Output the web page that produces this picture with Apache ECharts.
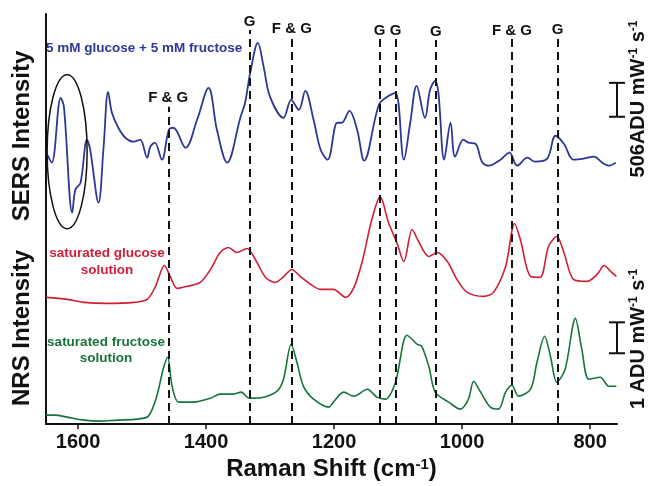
<!DOCTYPE html>
<html>
<head>
<meta charset="utf-8">
<script src="https://cdn.jsdelivr.net/npm/echarts@6/dist/echarts.min.js"></script>
<style>
  html, body { margin: 0; padding: 0; background: #fff; }
  #chart { width: 651px; height: 486px; }
</style>
</head>
<body>
<div id="chart"></div>
<script>
var FONT = 'Liberation Sans, Arial, sans-serif';

// Raman shift (cm-1) vs intensity above each trace's own baseline
var sersData = [
    [1648, 11], [1641, 3], [1627, 68], [1622, 59], [1609, -47], [1604, -24], [1596, -17],
    [1586, 26], [1581, 16], [1568, -37], [1560, 19], [1553, 74], [1547, 53], [1537, 38],
    [1526, 28], [1513, 24], [1503, 26], [1492, 8], [1487, 19], [1480, 23], [1469, 6],
    [1458, 36], [1451, 38], [1432, 18], [1414, 46], [1396, 78], [1383, 36], [1367, 3],
    [1346, 49], [1339, 63], [1331, 93], [1319, 123], [1310, 99], [1300, 69], [1279, 48],
    [1267, 66], [1255, 56], [1245, 75], [1232, 46], [1221, 16], [1210, 6], [1195, 43],
    [1188, 43], [1176, 55], [1164, 36], [1153, 5], [1130, 61], [1117, 69], [1104, 73],
    [1091, 6], [1081, 43], [1071, 80], [1058, 48], [1050, 76], [1042, 85], [1037, 73],
    [1028, 6], [1018, 43], [1011, 9], [998, 26], [990, 23], [979, 22], [969, 4], [958, 0],
    [940, 6], [926, 13], [914, 0], [898, 8], [886, 4], [867, 7], [854, 30], [841, 22],
    [826, 6], [810, 7], [794, 9], [781, 3], [771, 0], [760, 3]
];
var glucoseData = [
    [1650, 7], [1617, 5], [1591, 2], [1555, 1], [1513, 2], [1492, 5], [1479, 18],
    [1465, 39], [1456, 28], [1445, 16], [1430, 18], [1409, 22], [1393, 35], [1378, 52],
    [1365, 57], [1352, 52], [1336, 56], [1323, 45], [1307, 27], [1292, 22], [1280, 27],
    [1266, 35], [1253, 28], [1232, 18], [1221, 15], [1201, 15], [1182, 7], [1169, 17],
    [1156, 43], [1141, 85], [1128, 108], [1115, 82], [1102, 62], [1091, 43], [1078, 75],
    [1068, 63], [1052, 48], [1039, 52], [1023, 43], [1008, 25], [992, 12], [966, 8],
    [951, 12], [932, 38], [918, 81], [909, 65], [893, 28], [878, 27], [865, 58],
    [852, 68], [841, 52], [826, 25], [805, 23], [789, 30], [778, 39], [768, 33], [759, 28]
];
var fructoseData = [
    [1650, 9], [1636, 9], [1617, 7], [1591, 4], [1565, 3], [1539, 4], [1508, 5],
    [1490, 8], [1477, 28], [1467, 55], [1460, 67], [1453, 38], [1443, 22], [1419, 22],
    [1393, 26], [1378, 30], [1357, 30], [1345, 32], [1333, 26], [1310, 27], [1289, 33],
    [1279, 45], [1267, 80], [1258, 62], [1248, 38], [1232, 25], [1208, 17], [1201, 22],
    [1185, 32], [1169, 28], [1148, 35], [1133, 27], [1120, 25], [1104, 42], [1086, 89],
    [1070, 80], [1063, 78], [1052, 58], [1042, 32], [1021, 22], [1003, 15], [990, 25],
    [982, 43], [971, 32], [956, 17], [943, 15], [932, 32], [922, 39], [912, 28],
    [893, 35], [883, 62], [871, 88], [862, 68], [852, 42], [839, 55], [823, 106],
    [813, 75], [802, 45], [784, 47], [771, 38], [759, 38]
];

// assigned bands
var bandShifts = [1459, 1332, 1266, 1129, 1104, 1041, 922, 851];
var bandLabels = ['F & G', 'G', 'F & G', 'G', 'G', 'G', 'F & G', 'G'];
var bandTops = [318, 395, 388, 386, 386, 385, 386, 387];

var xTicks = [1600, 1400, 1200, 1000, 800];

var baseSers = 259, baseGlucose = 120, baseFructose = 0;

function shift(data, base) {
    return data.map(function (p) { return [p[0], p[1] + base]; });
}

var chart = echarts.init(document.getElementById('chart'));

var bandLines = bandShifts.map(function (s, i) {
    return [
        { coord: [s, 0] },
        { coord: [s, bandTops[i]], label: { formatter: bandLabels[i] } }
    ];
});

var option = {
    animation: false,
    backgroundColor: '#fff',
    grid: { left: 46, right: 34, top: 14, bottom: 61 },
    xAxis: {
        type: 'value',
        inverse: true,
        min: 758,
        max: 1650,
        name: 'Raman Shift (cm{sup|-1})',
        nameLocation: 'middle',
        nameGap: 30,
        nameTextStyle: {
            fontFamily: FONT, fontSize: 24, fontWeight: 'bold', color: '#111',
            rich: { sup: { fontFamily: FONT, fontSize: 15, fontWeight: 'bold', color: '#111', verticalAlign: 'top', padding: [0, 0, 9, 0] } }
        },
        axisLine: { lineStyle: { color: '#111', width: 2 } },
        axisTick: { show: true, length: 5, customValues: xTicks, lineStyle: { color: '#111', width: 1.5 } },
        axisLabel: {
            customValues: xTicks, margin: 8,
            formatter: function (v) { return String(v); },
            fontFamily: FONT, fontSize: 20, fontWeight: 'bold', color: '#111'
        },
        splitLine: { show: false }
    },
    yAxis: {
        type: 'value',
        min: 0,
        max: 411,
        axisLine: { show: true, lineStyle: { color: '#111', width: 2 } },
        axisTick: { show: false },
        axisLabel: { show: false },
        splitLine: { show: false }
    },
    series: [
        {
            type: 'line', data: shift(sersData, baseSers), showSymbol: false,
            smooth: 0.35, lineStyle: { color: '#2e3796', width: 1.8 }, z: 3
        },
        {
            type: 'line', data: shift(glucoseData, baseGlucose), showSymbol: false,
            smooth: 0.3, lineStyle: { color: '#cf1f36', width: 1.6 }, z: 3
        },
        {
            type: 'line', data: shift(fructoseData, baseFructose), showSymbol: false,
            smooth: 0.3, lineStyle: { color: '#17743c', width: 1.6 }, z: 3,
            markLine: {
                silent: true,
                symbol: ['none', 'none'],
                lineStyle: { color: '#111', width: 2, type: [8, 5] },
                label: {
                    position: 'end', distance: 1,
                    fontFamily: FONT, fontSize: 15, fontWeight: 'bold', color: '#111'
                },
                data: bandLines
            }
        }
    ]
};
chart.setOption(option);

// annotations placed through the chart's own coordinate system
var ellC = chart.convertToPixel({ gridIndex: 0 }, [1617, 273]);
var barSersTop = chart.convertToPixel({ gridIndex: 0 }, [758, 342]);
var barSersBot = chart.convertToPixel({ gridIndex: 0 }, [758, 308]);
var barNrsTop = chart.convertToPixel({ gridIndex: 0 }, [758, 102]);
var barNrsBot = chart.convertToPixel({ gridIndex: 0 }, [758, 71]);

function scaleBar(top, bot) {
    var x = top[0], w = 8;
    return {
        type: 'group',
        children: [
            { type: 'line', shape: { x1: x, y1: top[1], x2: x, y2: bot[1] }, style: { stroke: '#111', lineWidth: 2 } },
            { type: 'line', shape: { x1: x - w, y1: top[1], x2: x + w, y2: top[1] }, style: { stroke: '#111', lineWidth: 2 } },
            { type: 'line', shape: { x1: x - w, y1: bot[1], x2: x + w, y2: bot[1] }, style: { stroke: '#111', lineWidth: 2 } }
        ]
    };
}

var supRich = { sup: { fontFamily: FONT, fontSize: 12, fontWeight: 'bold', fill: '#111', verticalAlign: 'top', padding: [0, 0, 9, 0] } };

chart.setOption({
    graphic: [
        {
            type: 'ellipse', shape: { cx: ellC[0], cy: ellC[1], rx: 20, ry: 77 },
            style: { fill: 'none', stroke: '#111', lineWidth: 1.5 }, z: 10
        },
        scaleBar(barSersTop, barSersBot),
        scaleBar(barNrsTop, barNrsBot),
        {
            type: 'text', x: 22, y: 136, rotation: Math.PI / 2,
            style: { text: 'SERS Intensity', fontFamily: FONT, fontSize: 24, fontWeight: 'bold', fill: '#111', align: 'center', verticalAlign: 'middle' }
        },
        {
            type: 'text', x: 22, y: 328, rotation: Math.PI / 2,
            style: { text: 'NRS Intensity', fontFamily: FONT, fontSize: 24, fontWeight: 'bold', fill: '#111', align: 'center', verticalAlign: 'middle' }
        },
        {
            type: 'text', x: 638, y: 99, rotation: Math.PI / 2,
            style: { text: '506ADU mW{sup|-1} s{sup|-1}', rich: supRich, fontFamily: FONT, fontSize: 20, fontWeight: 'bold', fill: '#111', align: 'center', verticalAlign: 'middle' }
        },
        {
            type: 'text', x: 638, y: 339, rotation: Math.PI / 2,
            style: { text: '1 ADU mW{sup|-1} s{sup|-1}', rich: supRich, fontFamily: FONT, fontSize: 20, fontWeight: 'bold', fill: '#111', align: 'center', verticalAlign: 'middle' }
        },
        {
            type: 'text', x: 46, y: 48,
            style: { text: '5 mM glucose + 5 mM fructose', fontFamily: FONT, fontSize: 13.5, fontWeight: 'bold', fill: '#2e3796', align: 'left', verticalAlign: 'middle' }
        },
        {
            type: 'text', x: 107, y: 262,
            style: { text: 'saturated glucose\nsolution', fontFamily: FONT, fontSize: 13.5, lineHeight: 17, fontWeight: 'bold', fill: '#cf1f36', align: 'center', verticalAlign: 'middle' }
        },
        {
            type: 'text', x: 106, y: 350,
            style: { text: 'saturated fructose\nsolution', fontFamily: FONT, fontSize: 13.5, lineHeight: 16, fontWeight: 'bold', fill: '#17743c', align: 'center', verticalAlign: 'middle' }
        }
    ]
});

window.addEventListener('resize', function () {
    chart.resize();
});
</script>
</body>
</html>
